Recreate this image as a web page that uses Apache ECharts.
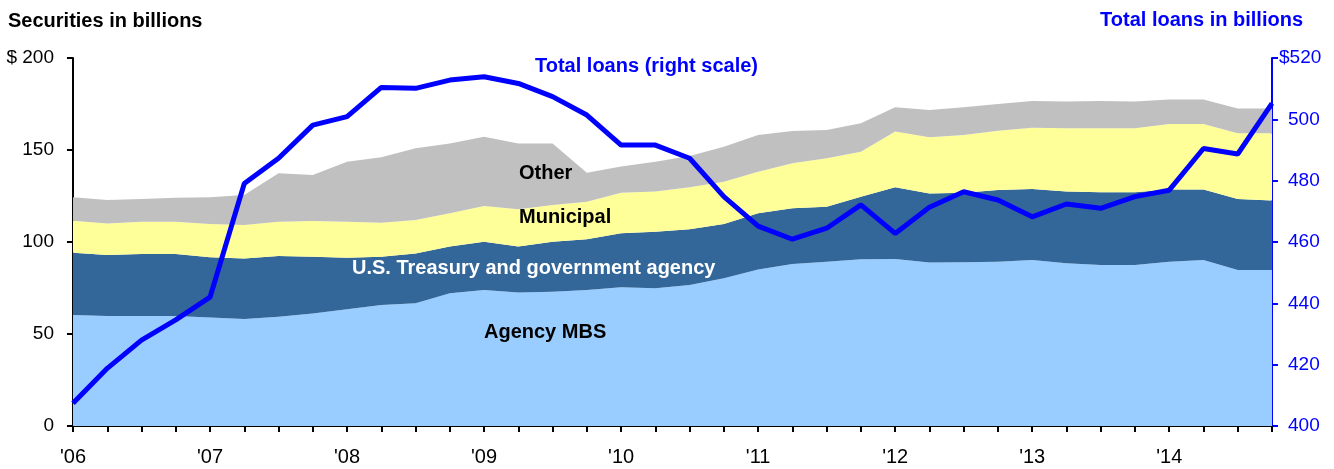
<!DOCTYPE html>
<html>
<head>
<meta charset="utf-8">
<script src="https://cdn.jsdelivr.net/npm/echarts@6/dist/echarts.min.js"></script>
<style>
  html, body { margin: 0; padding: 0; background: #fff; }
  #chart { width: 1334px; height: 469px; }
</style>
</head>
<body>
<div id="chart"></div>
<script>
// quarters 2006Q1 .. 2014Q4
const quarters = [];
for (let y = 2006; y <= 2014; y++) {
  for (let q = 1; q <= 4; q++) quarters.push(y + 'Q' + q);
}

// securities, billions (stacked pieces)
const agencyMBS = [60.3, 59.8, 59.8, 59.8, 58.9, 58.2, 59.4, 61.2, 63.4, 65.8, 66.7, 72.1,
                   73.9, 72.5, 73.0, 73.9, 75.4, 74.8, 76.6, 80.3, 85.1, 88.0, 89.3, 90.6,
                   90.8, 88.8, 89.0, 89.3, 90.2, 88.4, 87.5, 87.5, 89.3, 90.2, 84.8, 84.8];
const treasury = [33.9, 33.2, 33.7, 33.7, 32.8, 32.9, 33.0, 30.8, 28.1, 26.2, 27.1, 25.4,
                  26.3, 25.0, 27.2, 27.6, 29.3, 30.8, 30.3, 29.5, 30.5, 30.3, 29.9, 34.0,
                  38.9, 37.6, 37.8, 39.0, 38.6, 39.0, 39.5, 39.5, 39.3, 38.4, 38.6, 37.7];
const municipal = [17.4, 17.1, 17.5, 17.5, 18.1, 18.1, 18.6, 19.4, 19.5, 18.5, 18.2, 18.1,
                   19.4, 20.3, 19.9, 20.4, 22.1, 21.8, 22.8, 23.0, 22.6, 24.5, 26.3, 24.5,
                   30.3, 30.5, 31.4, 32.2, 33.3, 34.4, 34.8, 34.8, 35.5, 35.5, 35.7, 36.6];
const other = [12.7, 12.7, 12.4, 13.1, 14.5, 16.3, 26.3, 25.0, 32.6, 35.5, 39.0, 38.0,
               37.6, 35.8, 33.5, 15.8, 14.2, 16.2, 17.0, 19.0, 20.0, 17.5, 15.4, 15.4,
               13.2, 14.8, 15.0, 14.5, 14.5, 14.5, 14.8, 14.5, 13.4, 13.4, 13.5, 13.5];

// total loans, billions (right scale)
const totalLoans = [407.4, 418.8, 428.0, 434.6, 442.0, 479.1, 487.3, 498.1, 500.9, 510.4, 510.1, 512.8,
                    513.9, 511.7, 507.4, 501.4, 491.6, 491.6, 487.3, 474.8, 465.2, 460.9, 464.5, 472.1,
                    462.8, 471.3, 476.4, 473.7, 468.2, 472.4, 471.0, 474.8, 476.9, 490.5, 488.7, 505.2];

const leftTicks = [0, 50, 100, 150, 200];
const rightTicks = [400, 420, 440, 460, 480, 500, 520];

const FONT = '"Liberation Sans", Arial, sans-serif';

function area(name, data, color) {
  return {
    name: name,
    type: 'line',
    stack: 'sec',
    data: data,
    symbol: 'none',
    lineStyle: { width: 0 },
    areaStyle: { color: color, opacity: 1 },
    silent: true
  };
}

function label(text, x, y, color) {
  return {
    type: 'text', x: x, y: y, z: 100,
    style: { text: text, font: 'bold 20px ' + FONT, fill: color, textVerticalAlign: 'middle' }
  };
}

const chart = echarts.init(document.getElementById('chart'));
chart.setOption({
  animation: false,
  textStyle: { fontFamily: FONT },
  grid: { left: 73, right: 62, top: 58, bottom: 43 },
  xAxis: {
    type: 'category',
    data: quarters,
    boundaryGap: false,
    axisLine: { lineStyle: { color: '#000', width: 2 } },
    axisTick: { interval: 0, length: 6, lineStyle: { color: '#000', width: 2 } },
    axisLabel: {
      interval: 3,
      margin: 21,
      color: '#000',
      fontSize: 20,
      fontFamily: FONT,
      formatter: v => "'" + v.slice(2, 4)
    },
    splitLine: { show: false }
  },
  yAxis: [
    {
      type: 'value',
      min: leftTicks[0],
      max: leftTicks[leftTicks.length - 1],
      interval: 50,
      axisLine: { show: true, lineStyle: { color: '#000', width: 2 } },
      axisTick: { show: true, length: 6, lineStyle: { color: '#000', width: 2 } },
      axisLabel: {
        margin: 19,
        color: '#000',
        fontSize: 19,
        fontFamily: FONT,
        formatter: v => v === 200 ? '$ 200' : String(v)
      },
      splitLine: { show: false }
    },
    {
      type: 'value',
      position: 'right',
      min: rightTicks[0],
      max: rightTicks[rightTicks.length - 1],
      interval: 20,
      axisLine: { show: true, lineStyle: { color: '#0000FF', width: 2 } },
      axisTick: { show: true, length: 6, lineStyle: { color: '#0000FF', width: 2 } },
      axisLabel: {
        margin: 7,
        color: '#0000FF',
        fontSize: 19,
        fontFamily: FONT,
        formatter: v => v === 520 ? '{d|$520}' : '{n|' + v + '}',
        rich: {
          d: { color: '#0000FF', fontSize: 19, fontFamily: FONT },
          n: { color: '#0000FF', fontSize: 19, fontFamily: FONT, padding: [0, 0, 0, 9] }
        }
      },
      splitLine: { show: false }
    }
  ],
  series: [
    area('Agency MBS', agencyMBS, '#99CCFF'),
    area('U.S. Treasury and government agency', treasury, '#336699'),
    area('Municipal', municipal, '#FFFF99'),
    area('Other', other, '#C0C0C0'),
    {
      name: 'Total loans',
      type: 'line',
      yAxisIndex: 1,
      data: totalLoans,
      symbol: 'none',
      lineStyle: { color: '#0000FF', width: 5 },
      z: 5
    }
  ],
  graphic: [
    label('Securities in billions', 8, 21, '#000'),
    {
      type: 'text', right: 31, top: 10, z: 100,
      style: { text: 'Total loans in billions', font: 'bold 20px ' + FONT, fill: '#0000FF' }
    },
    label('Total loans (right scale)', 535, 66, '#0000FF'),
    label('Other', 519, 173, '#000'),
    label('Municipal', 519, 217, '#000'),
    label('U.S. Treasury and government agency', 352, 268, '#fff'),
    label('Agency MBS', 484, 332, '#000')
  ]
});
</script>
</body>
</html>
